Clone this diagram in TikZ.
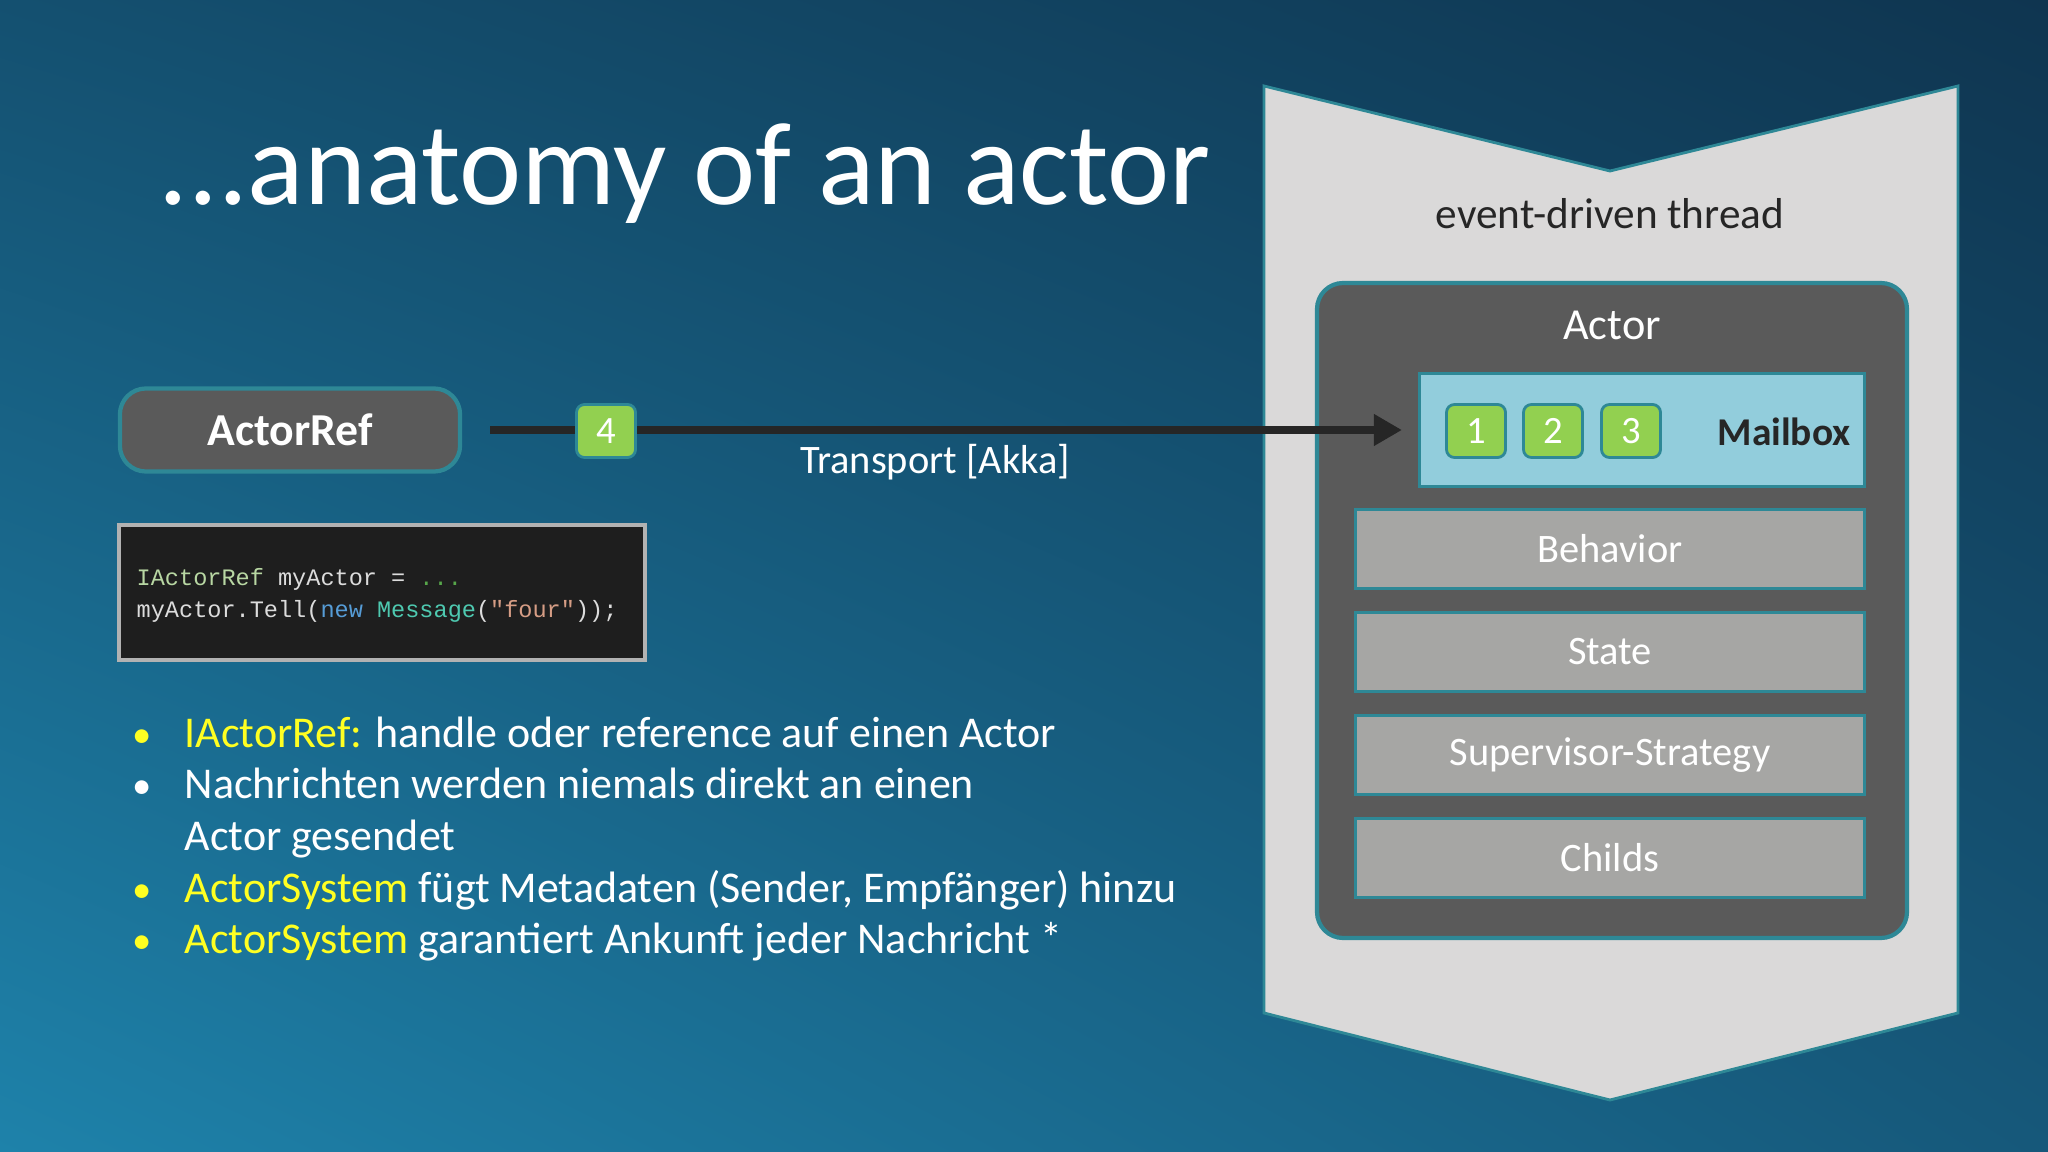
\documentclass[tikz,border=0pt]{standalone}
\usepackage{fontspec}
\setmainfont{Carlito}
\setmonofont{Liberation Mono}
\usetikzlibrary{arrows.meta,shadings}
\definecolor{bgtl}{HTML}{145070}
\definecolor{bgtr}{HTML}{0F3550}
\definecolor{bgbl}{HTML}{1E82AA}
\definecolor{bgbr}{HTML}{16587A}
\definecolor{tealedge}{HTML}{2E8896}
\definecolor{actorgray}{HTML}{5A5A5A}
\definecolor{partgray}{HTML}{A6A6A4}
\definecolor{threadgray}{HTML}{DAD9D9}
\definecolor{mailblue}{HTML}{92CDDC}
\definecolor{msggreen}{HTML}{92D050}
\definecolor{hiyellow}{HTML}{FFFF22}
\definecolor{codebg}{HTML}{1E1E1E}
\definecolor{cdtype}{HTML}{B8D7A3}
\definecolor{cdtext}{HTML}{DCDCDC}
\definecolor{cdcomment}{HTML}{57A64A}
\definecolor{cdkey}{HTML}{569CD6}
\definecolor{cdclass}{HTML}{4EC9B0}
\definecolor{cdstring}{HTML}{D69D85}
\tikzset{
  refbox/.style={draw=tealedge,line width=1.2pt,fill=actorgray,rounded corners=0.26cm,
    minimum width=3.4cm,minimum height=0.83cm,text=white,font=\fontsize{13}{13}\selectfont\bfseries},
  slot/.style={draw=tealedge,line width=0.8pt,fill=msggreen,rounded corners=0.08cm,
    minimum width=0.59cm,minimum height=0.53cm,text=white,font=\fontsize{11}{11}\selectfont},
  part/.style={draw=tealedge,line width=0.8pt,fill=partgray,minimum width=5.09cm,
    minimum height=0.79cm,text=white,font=\fontsize{11.5}{12}\selectfont},
  txt/.style={font=\fontsize{11.5}{12}\selectfont},
  bul/.style={anchor=base,inner sep=0pt,font=\fontsize{11}{13}\selectfont},
  line/.style={anchor=base west,inner sep=0pt,text=white,font=\fontsize{12.5}{13}\selectfont},
  flow/.style={line width=0.08cm,draw=black!85,-{Triangle[length=0.28cm,width=0.3cm]}}
}
\begin{document}
\begin{tikzpicture}[x=0.01cm,y=-0.01cm]
\shade[upper left=bgtl,upper right=bgtr,lower left=bgbl,lower right=bgbr] (0,0) rectangle (2048,1152);
\useasboundingbox (0,0) rectangle (2048,1152);
% title
\node[anchor=base west,inner sep=0pt,text=white,font=\fontsize{33.5}{34}\selectfont] (title) at (158,205) {...anatomy of an actor};
% thread
\draw[draw=tealedge,line width=0.8pt,fill=threadgray] (1264,86) -- (1610,171) -- (1958,86) -- (1958,1013) -- (1610,1100) -- (1264,1013) -- cycle;
\node[font=\fontsize{12.3}{13}\selectfont,text=black!85] (thread) at (1610,214) {event-driven thread};
\draw[draw=tealedge,line width=1.2pt,fill=actorgray,rounded corners=0.26cm] (1317,283) rectangle (1907,938);
\node[font=\fontsize{12.6}{13}\selectfont,text=white] (actor) at (1612,325) {Actor};
\node[draw=tealedge,line width=0.8pt,fill=mailblue,minimum width=4.45cm,minimum height=1.13cm] (mailbox) at (1642,430) {};
\node[font=\fontsize{11.2}{12}\selectfont\bfseries,text=black!85] (mbtext) at (1784,432) {Mailbox};
\node[slot] (m1) at (1476,431) {1};
\node[slot] (m2) at (1553,431) {2};
\node[slot] (m3) at (1631,431) {3};
\node[part] (behavior) at (1610,549) {Behavior};
\node[part] (state) at (1610,652) {State};
\node[part] (strategy) at (1610,755) {Supervisor-Strategy};
\node[part] (childs) at (1610,858) {Childs};
% reference and transport
\node[refbox] (ref) at (290,430) {ActorRef};
\coordinate (src) at (490,430);
\draw[flow,shorten >=0.16cm] (src) -- (mailbox.west);
\node[slot] (m4) at (606,431) {4};
\node[txt,text=white] (transport) at (935,462) {Transport [Akka]};
% code
\draw[draw=black!30,line width=1pt,fill=codebg] (119,525) rectangle (645,660);
\node[anchor=west,align=left,inner sep=0pt,font=\fontsize{6.7}{9.1}\ttfamily] (code) at (136,595)
  {\textcolor{cdtype}{IActorRef}\ \textcolor{cdtext}{myActor =}\ \textcolor{cdcomment}{...}\\
   \textcolor{cdtext}{myActor.Tell(}\textcolor{cdkey}{new}\ \textcolor{cdclass}{Message}\textcolor{cdtext}{(}\textcolor{cdstring}{"four"}\textcolor{cdtext}{));}};
% bullets
\node[bul,text=hiyellow] (d1) at (142,747) {•};
\node[line] (l1) at (184,747) {\textcolor{hiyellow}{IActorRef:} handle oder reference auf einen Actor};
\node[bul,text=white] (d2) at (142,798) {•};
\node[line] (l2) at (184,798) {Nachrichten werden niemals direkt an einen};
\node[line] (l3) at (184,850) {Actor gesendet};
\node[bul,text=hiyellow] (d4) at (142,902) {•};
\node[line] (l4) at (184,902) {\textcolor{hiyellow}{ActorSystem} fügt Metadaten (Sender, Empfänger) hinzu};
\node[bul,text=hiyellow] (d5) at (142,953) {•};
\node[line] (l5) at (184,953) {\textcolor{hiyellow}{ActorSystem} garantiert Ankunft jeder Nachricht *};
\end{tikzpicture}
\end{document}
